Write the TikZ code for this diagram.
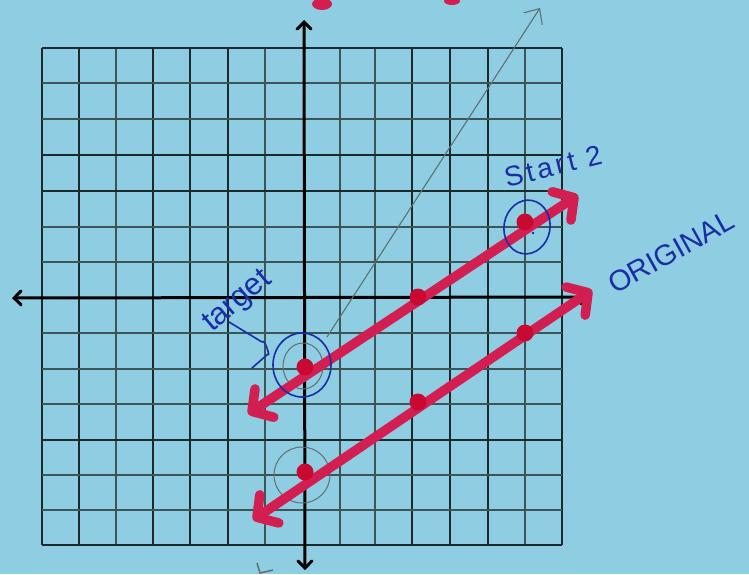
\documentclass[tikz,border=0pt]{standalone}
\usepackage{fontspec}
\setmainfont{Liberation Sans}
\usetikzlibrary{arrows.meta,shapes.geometric}
\definecolor{paper}{RGB}{143,205,226}
\definecolor{griddark}{RGB}{28,42,44}
\definecolor{gridlight}{RGB}{60,86,88}
\definecolor{marker}{RGB}{210,30,80}
\definecolor{dotred}{RGB}{200,10,50}
\definecolor{ink}{RGB}{25,45,165}
\definecolor{pencil}{RGB}{95,112,114}
\tikzset{
  gdark/.style={draw=griddark,line width=1.6pt},
  glight/.style={draw=gridlight,line width=1.5pt},
  axisline/.style={draw=black,line width=3pt,{Straight Barb[length=7pt,width=14pt,line cap=round]}-{Straight Barb[length=7pt,width=14pt,line cap=round]}},
  redline/.style={draw=marker,line width=9.5pt,line cap=round,line join=round,{Straight Barb[length=15pt,width=34pt,round]}-{Straight Barb[length=15pt,width=34pt,round]}},
  reddot/.style={circle,fill=dotred,inner sep=0pt,minimum size=17pt},
  inkline/.style={draw=ink,line width=1.6pt},
  pencilline/.style={draw=pencil,line width=1.1pt},
  inktext/.style={text=ink,inner sep=0pt}
}
\begin{document}
\begin{tikzpicture}[x=1pt,y=-1pt]
\useasboundingbox (0,0) rectangle (749,574);
\fill[paper] (0,0) rectangle (749,574);
% grid
\foreach \x in {41.7,79,153,190,228,412,450,488,562}
  \draw[gdark] (\x,48) -- (\x,545);
\foreach \x in {116,265,340,375,525}
  \draw[glight] (\x,48) -- (\x,545);
\foreach \y in {48,155,191,440,545}
  \draw[gdark] (41.7,\y) -- (562,\y);
\foreach \y in {83,119,227,262,333,369,404,475,510}
  \draw[glight] (41.7,\y) -- (562,\y);
% axes
\coordinate (xl) at (12,298);
\coordinate (xr) at (590,297);
\coordinate (yt) at (304,20);
\coordinate (yb) at (305,570);
\draw[axisline] (xl) -- (xr);
\draw[axisline] (yb) -- (yt);
% pencil marks
\node[draw=pencil,line width=1pt,ellipse,minimum width=40pt,minimum height=46pt,inner sep=0pt] (pc1) at (303,366) {};
\node[draw=pencil,line width=1pt,circle,minimum size=56pt,inner sep=0pt] (pc2) at (302,475) {};
\coordinate (ga) at (327,337);
\coordinate (gb) at (540,8);
\draw[pencilline,-{Straight Barb[length=12pt,width=22pt]}] (ga) -- (gb);
\coordinate (bm1) at (257,563);
\coordinate (bm2) at (260,573);
\coordinate (bm3) at (273,570);
\draw[pencilline,line width=1.5pt] (bm1) -- (bm2) -- (bm3);
% red lines
\coordinate (a0) at (248,414);
\coordinate (a4) at (578,195);
\coordinate (b0) at (253,520);
\coordinate (b4) at (592,290);
\draw[redline] (a0) -- (a4);
\draw[redline] (b0) -- (b4);
\node[reddot] (a1) at (305,367) {};
\node[reddot] (a2) at (418,297) {};
\node[reddot] (a3) at (525,222) {};
\node[reddot] (b1) at (305,472) {};
\node[reddot] (b2) at (418,402) {};
\node[reddot] (b3) at (525,333) {};
% top red fragments
\fill[marker] (322,4) ellipse [x radius=10, y radius=6];
\fill[marker] (452,1) ellipse [x radius=8, y radius=4];
% blue ink
\node[draw=ink,line width=1.6pt,ellipse,minimum width=58pt,minimum height=64pt,inner sep=0pt] (c1) at (302,365) {};
\node[draw=ink,line width=1.6pt,ellipse,minimum width=46pt,minimum height=54pt,inner sep=0pt,rotate=-10] (c2) at (527,227) {};
\fill[ink] (533,233) circle (1.3);
\coordinate (h0) at (229,322);
\coordinate (h1) at (262,342);
\coordinate (h2) at (268,354);
\coordinate (h3) at (252,368);
\draw[inkline,line cap=round,line join=round] (h0) -- (h1) to[out=60,in=-60] (h2) -- (h3);
\node[inktext,rotate=40,font=\fontsize{31}{34}\selectfont] (tg) at (238,302) {target};
\node[inktext,rotate=14,font=\fontsize{28}{31}\selectfont\addfontfeature{LetterSpace=12}] (st) at (553,166) {Start 2};
\node[inktext,rotate=29,font=\fontsize{29}{32}\selectfont] (og) at (671,252) {ORIGINAL};
\end{tikzpicture}
\end{document}
